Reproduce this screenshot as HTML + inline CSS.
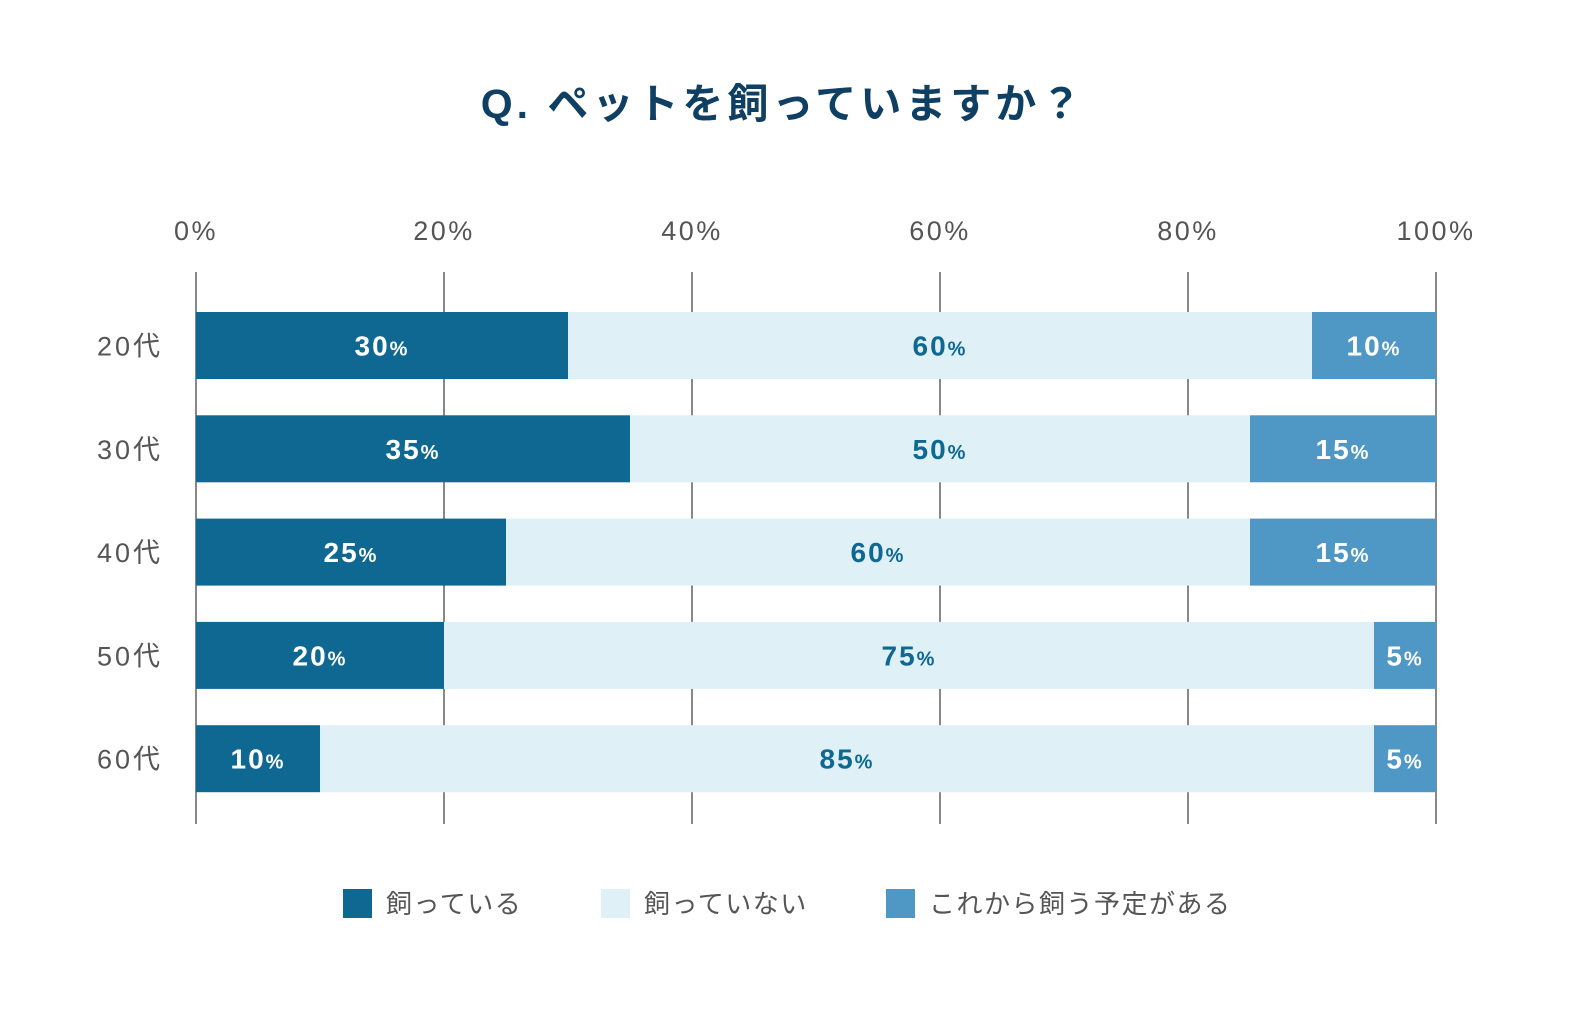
<!DOCTYPE html>
<html><head><meta charset="utf-8"><style>
body{margin:0;background:#fff;width:1590px;height:1014px;overflow:hidden;font-family:"Liberation Sans","Noto Sans CJK JP",sans-serif}
</style></head><body>
<svg id="chart" width="1590" height="1014" xmlns="http://www.w3.org/2000/svg" font-family="Liberation Sans, Noto Sans CJK JP, sans-serif">
<text x="783" y="118" text-anchor="middle" font-size="41" font-weight="bold" fill="#0f3f62" letter-spacing="4">Q. ペットを飼っていますか？</text>
<g id="grid"></g><g id="bars"></g><g id="legend"></g>
</svg>
<script>
const categories=["20代","30代","40代","50代","60代"];
const owning=[30,35,25,20,10];
const notOwning=[60,50,60,75,85];
const planning=[10,15,15,5,5];
const ticks=[0,20,40,60,80,100];
const seriesNames=["飼っている","飼っていない","これから飼う予定がある"];
const colors=["#0e6892","#dff0f7","#4f97c4"];
const textColors=["#fff","#0e6892","#fff"];
const NS="http://www.w3.org/2000/svg";
const x0=196,x1=1436;
const xs=v=>x0+(x1-x0)*v/100;
const yb=i=>312+i*103.3;
const bh=67;
function el(t,a,p){const e=document.createElementNS(NS,t);for(const k in a)e.setAttribute(k,a[k]);p.appendChild(e);return e;}
const grid=document.getElementById('grid'),bars=document.getElementById('bars'),leg=document.getElementById('legend');
ticks.forEach(t=>{
 const l=el('line',{x1:xs(t),x2:xs(t),y1:272,y2:824,stroke:'#888','stroke-width':2},grid);
 
 
 const tx=el('text',{x:xs(t),y:240,'text-anchor':'middle','font-size':27,fill:'#555','letter-spacing':2.5},grid);
 tx.textContent=t+'%';
 
 
});
const series=[owning,notOwning,planning];
categories.forEach((c,i)=>{
 const y=yb(i);
 const lab=el('text',{x:130,y:y+bh/2+10,'text-anchor':'middle','font-size':27,fill:'#555','letter-spacing':3},bars);
 lab.textContent=c;
 
 
 let acc=0;
 series.forEach((s,j)=>{
  const v=s[i];
  const r=el('rect',{x:xs(acc),y:y,width:xs(acc+v)-xs(acc),height:bh,fill:colors[j]},bars);
  
  
  const t=el('text',{x:(xs(acc)+xs(acc+v))/2,y:y+bh/2+10,'text-anchor':'middle','font-size':28,'font-weight':'bold',fill:textColors[j],'letter-spacing':2},bars);
  
  
  t.textContent=v;
  const ts=el('tspan',{'font-size':20},t);ts.textContent='%';
  acc+=v;
 });
});
const lx=[343,601,886];
seriesNames.forEach((n,j)=>{
 const r=el('rect',{x:lx[j],y:889,width:29,height:29,fill:colors[j]},leg);
 
 
 const t=el('text',{x:lx[j]+43,y:913,'font-size':26,fill:'#555','letter-spacing':1.5},leg);
 t.textContent=n;
 
 
});
</script>
</body></html>
